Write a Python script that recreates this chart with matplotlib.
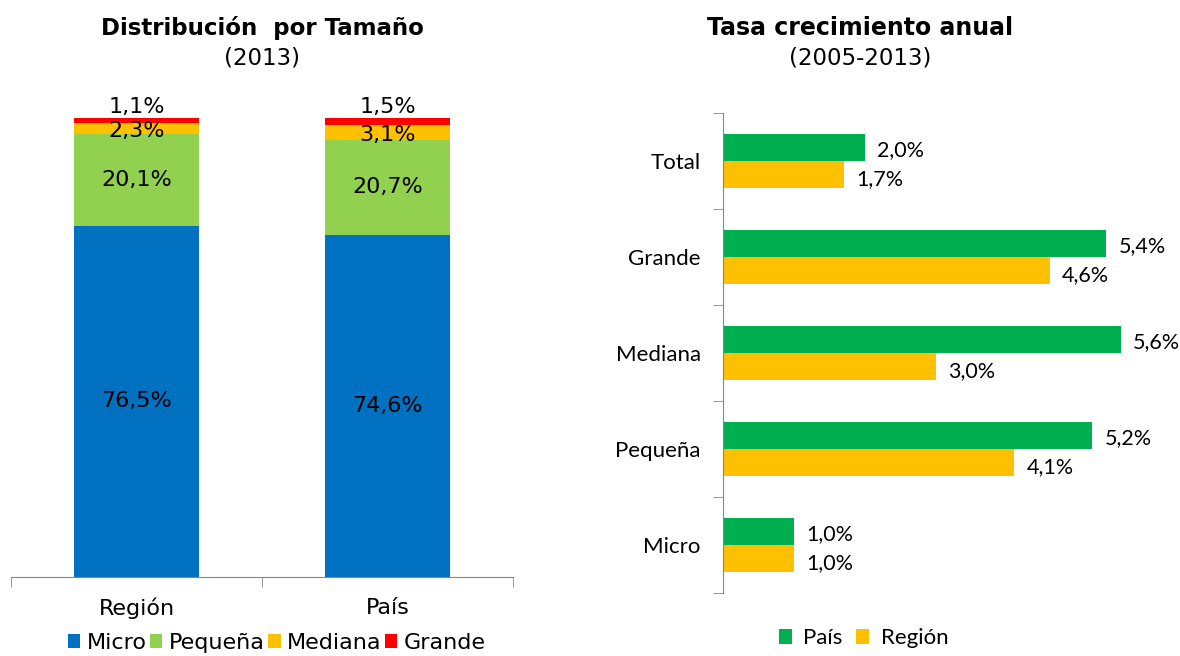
import numpy as np
import matplotlib.pyplot as plt

# Datos: distribución por tamaño (2013)
grupos = ['Región', 'País']
tamanos = ['Micro', 'Pequeña', 'Mediana', 'Grande']
micro = [76.5, 74.6]
pequena = [20.1, 20.7]
mediana = [2.3, 3.1]
grande = [1.1, 1.5]

# Datos: tasa de crecimiento anual (2005-2013)
categorias = ['Micro', 'Pequeña', 'Mediana', 'Grande', 'Total']
tasa_pais = [1.0, 5.2, 5.6, 5.4, 2.0]
tasa_region = [1.0, 4.1, 3.0, 4.6, 1.7]

col_tam = ['#0070C0', '#92D050', '#FFC000', '#FF0000']
col_pais = '#00B050'
col_region = '#FFC000'
gris = '#868686'

fmt = lambda v: f'{v:.1f}%'.replace('.', ',')

fig = plt.figure(figsize=(11.8, 6.56), dpi=100)

# ---------- Panel izquierdo ----------
ax1 = fig.add_axes([0.0093, 0.1204, 0.4254, 0.6997])
x = np.arange(len(grupos))
series = [micro, pequena, mediana, grande]
bottom = np.zeros(len(grupos))
for vals, c, nombre in zip(series, col_tam, tamanos):
    ax1.bar(x, vals, 0.5, bottom=bottom, color=c, label=nombre)
    for xi, b, v in zip(x, bottom, vals):
        if nombre == 'Grande':
            ax1.annotate(fmt(v), (xi, b + v), xytext=(0, 1), textcoords='offset points',
                         ha='center', va='bottom', fontsize=16, annotation_clip=False)
        elif nombre == 'Mediana':
            ax1.annotate(fmt(v), (xi, b + v / 2), xytext=(0, -2), textcoords='offset points',
                         ha='center', va='center', fontsize=16)
        else:
            ax1.text(xi, b + v / 2, fmt(v), ha='center', va='center', fontsize=16)
    bottom += np.array(vals)

ax1.set_xlim(-0.5, 1.5)
ax1.set_ylim(0, 100)
for s in ['top', 'right', 'left']:
    ax1.spines[s].set_visible(False)
ax1.spines['bottom'].set_color(gris)
ax1.set_yticks([])
ax1.set_xticks(x)
ax1.set_xticklabels(grupos, fontsize=16)
ax1.tick_params(axis='x', which='major', length=0, pad=15)
ax1.set_xticks([-0.5, 0.5, 1.5], minor=True)
ax1.tick_params(axis='x', which='minor', length=7, color=gris, direction='out')
ax1.legend(loc='upper center', bbox_to_anchor=(0.53, -0.122), ncol=4, frameon=False,
           fontsize=16, handlelength=0.55, handleheight=0.55, handletextpad=0.3,
           columnspacing=0.15, borderaxespad=0, borderpad=0)

fig.text(0.222, 0.958, 'Distribución  por Tamaño', ha='center', va='center',
         fontsize=16.5, fontweight='bold')
fig.text(0.222, 0.911, '(2013)', ha='center', va='center', fontsize=16.5)

# ---------- Panel derecho ----------
fam = ['Lato', 'DejaVu Sans']
ax2 = fig.add_axes([0.6127, 0.096, 0.361, 0.7317])
y = np.arange(len(categorias))
h = 0.28
ax2.barh(y + 0.14, tasa_pais, h, color=col_pais, label='País')
ax2.barh(y - 0.14, tasa_region, h, color=col_region, label='Región')
for yi, vp, vr in zip(y, tasa_pais, tasa_region):
    ax2.annotate(fmt(vp), (vp, yi + 0.14), xytext=(9, -2), textcoords='offset points',
                 ha='left', va='center', fontsize=15.5, family=fam, annotation_clip=False)
    ax2.annotate(fmt(vr), (vr, yi - 0.14), xytext=(9, -3), textcoords='offset points',
                 ha='left', va='center', fontsize=15.5, family=fam, annotation_clip=False)

ax2.set_xlim(0, 6)
ax2.set_ylim(-0.5, len(categorias) - 0.5)
for s in ['top', 'right', 'bottom']:
    ax2.spines[s].set_visible(False)
ax2.spines['left'].set_color(gris)
ax2.set_xticks([])
ax2.set_yticks(y)
ax2.set_yticklabels(categorias, fontsize=16, family=fam)
ax2.tick_params(axis='y', which='major', length=0, pad=16)
ax2.set_yticks(np.arange(-0.5, len(categorias)), minor=True)
ax2.tick_params(axis='y', which='minor', length=7, color=gris, direction='out')
ax2.legend(loc='upper center', bbox_to_anchor=(0.33, -0.055), ncol=2, frameon=False,
           prop={'family': fam, 'size': 16}, handlelength=0.6, handleheight=0.6,
           handletextpad=0.5, columnspacing=0.6, borderaxespad=0)

fig.text(0.729, 0.958, 'Tasa crecimiento anual', ha='center', va='center',
         fontsize=17, fontweight='bold')
fig.text(0.729, 0.911, '(2005-2013)', ha='center', va='center', fontsize=16.5)

plt.savefig('out.png', dpi=100)
